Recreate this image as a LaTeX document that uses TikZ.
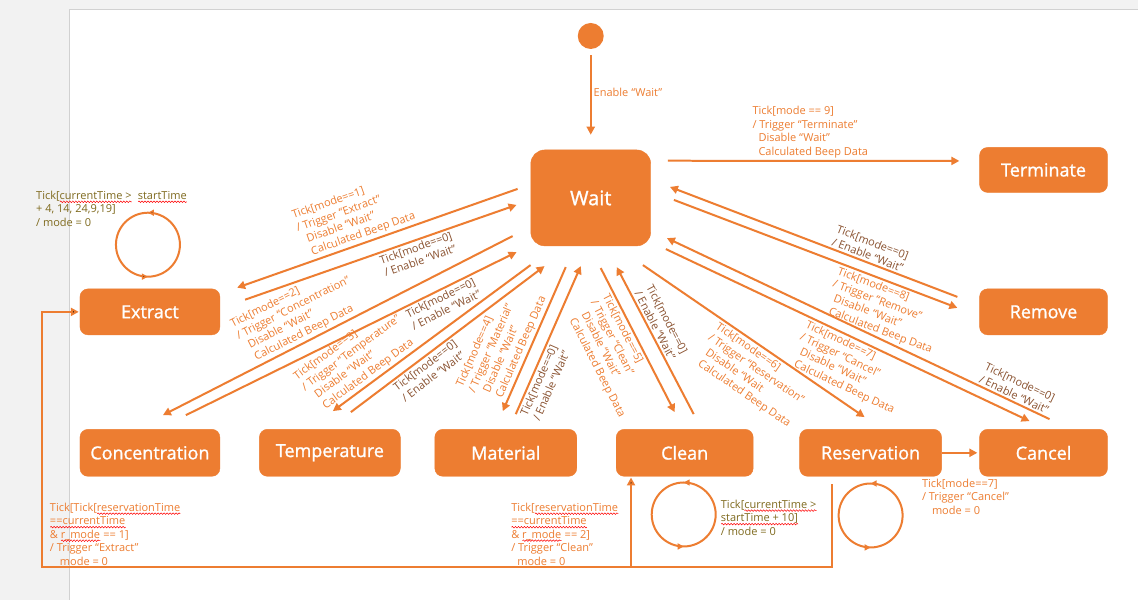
\documentclass[tikz,border=0pt]{standalone}
\usepackage{fontspec}
\setmainfont{Open Sans}
\newfontfamily\boxfont{Open Sans}[FakeBold=1.2]
\usetikzlibrary{arrows.meta, positioning, calc, decorations.markings, decorations.pathmorphing}
\definecolor{uorange}{HTML}{ED7D31}
\definecolor{ubrown}{HTML}{8A5230}
\definecolor{uolive}{HTML}{7F6A1E}
\definecolor{pagegray}{HTML}{F2F2F2}
% wavy red underline, like a spell checker mark
\newsavebox\sqbox
\newcommand\spellerr[1]{\sbox\sqbox{#1}\rlap{\usebox\sqbox}%
  \tikz[baseline=0pt]{\draw[-, shorten <=0pt, shorten >=0pt, red, line width=0.5pt, decorate,
    decoration={snake, amplitude=0.8pt, segment length=3pt}]
    (0pt,-2.5pt) -- (\wd\sqbox,-2.5pt);}}

\begin{document}
\begin{tikzpicture}[x=1pt, y=-1pt,
    every node/.style={font=\fontsize{11}{13.5}\selectfont},
    state/.style={
      rectangle, rounded corners=8pt,
      fill=uorange, draw=uorange, text=white,
      font=\boxfont\fontsize{18}{22}\selectfont,
      minimum height=47pt, inner sep=2pt},
    trans/.style={draw=uorange, line width=2pt, -{Triangle[length=8pt,width=8pt]}},
    lbl/.style={text=uorange, align=left, inner sep=2pt},
    elbl/.style={text=ubrown, align=left, inner sep=2pt},
    tlbl/.style={text=uolive, align=left, inner sep=2pt},
    selfloop/.style={draw=uorange, line width=2pt, postaction={decorate},
      decoration={markings,
        mark=at position 0.25 with {\arrow{Triangle[length=6pt,width=6pt]}},
        mark=at position 0.75 with {\arrow{Triangle[length=6pt,width=6pt]}}}}
  ]
    % page
    \fill[pagegray] (0,0) rectangle (1138,600);
    \fill[white] (70,10) rectangle (1138,600);
    \draw[black!18, line width=1pt] (70,600) -- (70,10) -- (1138,10);
    \useasboundingbox (0,0) rectangle (1138,600);

    % states
    \node[circle, fill=uorange, minimum size=26pt, inner sep=0] (init) at (591,36) {};
    \node[state, rounded corners=14pt, minimum width=120pt, minimum height=96pt,
          font=\boxfont\fontsize{20}{24}\selectfont] (wait) at (591,198) {Wait};
    \node[state, minimum width=128pt, minimum height=45pt] (terminate) at (1044,170) {Terminate};
    \node[state, minimum width=128pt, minimum height=46pt] (remove) at (1044,312) {Remove};
    \node[state, minimum width=128pt] (cancel) at (1044,453) {Cancel};
    \node[state, minimum width=142pt] (reservation) at (871,453) {Reservation};
    \node[state, minimum width=137pt] (clean) at (685,453) {Clean};
    \node[state, minimum width=142pt] (material) at (506,453) {Material};
    \node[state, minimum width=141pt] (temperature) at (330,453) {Temperature};
    \node[state, minimum width=140pt] (concentration) at (150,453) {Concentration};
    \node[state, minimum width=140pt, minimum height=46pt] (extract) at (150,312) {Extract};

    \draw[trans, shorten <=6pt, shorten >=15pt] (init) -- (wait)
      node[pos=0.43, right, lbl] (enlbl) {Enable “Wait”};

    % terminate
    \draw[trans] ($(wait.north east)+(17,11)$) -- ($(terminate.west)+(-20,-9)$)
      node[pos=0.28, anchor=south west, lbl] (tmlbl)
      {Tick[mode == 9]\\/ Trigger “Terminate”\\\hspace*{6pt}Disable “Wait”\\\hspace*{6pt}Calculated Beep Data};

    % extract
    \draw[trans] ($(wait.west)+(-13,-9)$) -- ($(extract.north east)+(17,-1)$)
      node[pos=0.55, sloped, above, lbl] (exlbl)
      {Tick[mode==1]\\/ Trigger “Extract”\\\hspace*{6pt}Disable “Wait”\\\hspace*{6pt}Calculated Beep Data};
    \draw[trans] ($(extract.north east)+(25,11)$) -- ($(wait.west)+(-14,7)$)
      node[pos=0.62, sloped, below, elbl] (exback) {Tick[mode==0]\\/ Enable “Wait”};

    % concentration
    \draw[trans] ($(wait.south west)+(-18,-10)$) -- ($(concentration.north)+(13,-14)$)
      node[pos=0.58, sloped, above, lbl] (colbl)
      {Tick[mode==2]\\/ Trigger “Concentration”\\\hspace*{6pt}Disable “Wait”\\\hspace*{6pt}Calculated Beep Data};
    \draw[trans] ($(concentration.north)+(36,-14)$) -- ($(wait.south west)+(-14,6)$)
      node[pos=0.76, sloped, below, elbl] (coback) {Tick[mode==0]\\/ Enable “Wait”};

    % temperature
    \draw[trans] ($(wait.south west)+(0,19)$) -- ($(temperature.north)+(3,-18)$)
      node[pos=0.8, sloped, above, lbl] (telbl)
      {Tick[mode==3]\\/ Trigger “Temperature”\\\hspace*{6pt}Disable “Wait”\\\hspace*{6pt}Calculated Beep Data};
    \draw[trans] ($(temperature.north)+(21,-17)$) -- ($(wait.south west)+(14,20)$)
      node[pos=0.36, sloped, below, elbl] (teback) {Tick[mode==0]\\/ Enable “Wait”};

    % material
    \draw[trans] ($(wait.south)+(-25,21)$) -- ($(material.north)+(-3,-18)$)
      node[pos=0.6, sloped, above, lbl] (malbl)
      {Tick[mode==4]\\/ Trigger “Material”\\\hspace*{6pt}Disable “Wait”\\\hspace*{6pt}Calculated Beep Data};
    \draw[trans] ($(material.north)+(10,-15)$) -- ($(wait.south)+(-10,20)$)
      node[pos=0.25, sloped, below, elbl] (maback) {Tick[mode==0]\\/ Enable “Wait”};

    % clean
    \draw[trans] ($(wait.south)+(10,22)$) -- ($(clean.north)+(-10,-17)$)
      node[pos=0.52, sloped, below, lbl] (cllbl)
      {Tick[mode==5]\\/ Trigger “Clean”\\\hspace*{6pt}Disable “Wait”\\\hspace*{6pt}Calculated Beep Data};
    \draw[trans] ($(clean.north)+(9,-15)$) -- ($(wait.south)+(26,21)$)
      node[pos=0.58, sloped, above, elbl] (clback) {Tick[mode==0]\\/ Enable “Wait”};

    % reservation
    \draw[trans] ($(wait.south east)+(-8,19)$) -- ($(reservation.north)+(-6,-12)$)
      node[pos=0.57, sloped, below, lbl] (rslbl)
      {Tick[mode==6]\\/ Trigger “Reservation”\\\hspace*{6pt}Disable “Wait\\\hspace*{6pt}Calculated Beep Data};

    % cancel
    \draw[trans] ($(wait.south east)+(15,3)$) -- ($(cancel.north)+(-14,-8)$)
      node[pos=0.54, sloped, below, lbl] (calbl)
      {Tick[mode==7]\\/ Trigger “Cancel”\\\hspace*{6pt}Disable “Wait”\\\hspace*{6pt}Calculated Beep Data};
    \draw[trans] ($(cancel.north)+(6,-10)$) -- ($(wait.south east)+(16,-8)$)
      node[pos=0.1, sloped, above, elbl] (caback) {Tick[mode==0]\\/ Enable “Wait”};

    % remove
    \draw[trans] ($(wait.east)+(23,2)$) -- ($(remove.west)+(-22,-4)$)
      node[pos=0.78, sloped, below, lbl] (rmlbl)
      {Tick[mode==8]\\/ Trigger “Remove”\\\hspace*{6pt}Disable “Wait”\\\hspace*{6pt}Calculated Beep Data};
    \draw[trans] ($(remove.west)+(-22,-15)$) -- ($(wait.east)+(19,-11)$)
      node[pos=0.32, sloped, above, elbl] (rmback) {Tick[mode==0]\\/ Enable “Wait”};

    % reservation -> cancel
    \draw[trans, shorten >=2pt] (reservation) -- (cancel);
    \node[lbl, anchor=north west] (rclbl) at ($(reservation.south east)+(-22,0)$)
      {Tick[mode==7]\\/ Trigger “Cancel”\\\hspace*{10pt}mode = 0};

    % reservation time reached
    \coordinate (rbot) at ($(reservation.south west)+(33,0)$);
    \coordinate (rbus) at ($(rbot)+(0,91)$);
    \coordinate (cbus) at ($(clean.south west)+(15,91)$);
    \draw[trans, shorten <=8pt, shorten >=1pt] (rbot) -- (rbus) -| ($(extract.west)+(-38,0)$)
      node[pos=0.5, above right, xshift=6pt, lbl] (rxlbl)
      {Tick[Tick[\spellerr{reservationTime}\\\spellerr{==currentTime}\\\& \spellerr{r\_mode} == 1]\\/ Trigger “Extract”\\\hspace*{10pt}mode = 0}
      -- (extract.west);
    \draw[trans, shorten >=1pt] (cbus) -- (clean.south -| cbus)
      node[pos=0, anchor=south west, xshift=-122pt, lbl] (rclnlbl)
      {Tick[\spellerr{reservationTime}\\\spellerr{==currentTime}\\\& \spellerr{r\_mode} == 2]\\/ Trigger “Clean”\\\hspace*{6pt}mode = 0};

    % self loops
    \coordinate (exloop) at ($(extract.north)+(-2,-44)$);
    \draw[selfloop] (exloop) ++(32,0) arc[start angle=0, end angle=-360, radius=32];
    \node[tlbl, anchor=north west] (exlooplbl) at ($(exloop)+(-114,-56)$)
      {Tick[\spellerr{currentTime >}\ \ \spellerr{startTime}\\+ 4, 14, 24,9,19]\\/ mode = 0};
    \coordinate (clloop) at ($(clean.south)+(-1,38)$);
    \draw[selfloop] (clloop) ++(32,0) arc[start angle=0, end angle=-360, radius=32];
    \node[tlbl, anchor=west] (cllooplbl) at ($(clloop)+(35,3)$)
      {Tick[\spellerr{currentTime >}\\\spellerr{startTime + 10]}\\/ mode = 0};
    \coordinate (rsloop) at ($(reservation.south)+(0,39)$);
    \draw[selfloop] (rsloop) ++(32,0) arc[start angle=0, end angle=-360, radius=32];
\end{tikzpicture}
\end{document}
